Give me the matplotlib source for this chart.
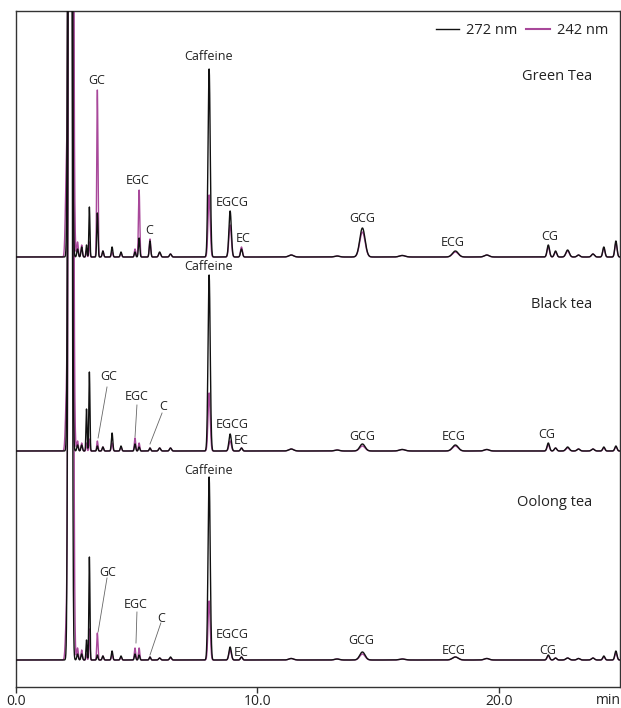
import numpy as np
import matplotlib
matplotlib.use("Agg")
import matplotlib.pyplot as plt
from matplotlib.lines import Line2D

plt.rcParams['font.family'] = ['Open Sans', 'DejaVu Sans']

# ---------------- data: peak tables (retention time [min], width sigma [min]) ----------------
peak_rt = [2.08, 2.24, 2.27, 2.55, 2.72, 2.92, 3.04, 3.37, 3.60, 3.98, 4.35, 4.93, 5.10,
           5.55, 5.95, 6.40, 8.00, 8.87, 9.34, 11.40, 13.30, 14.35, 16.00, 18.20, 19.50,
           22.05, 22.35, 22.85, 23.30, 23.90, 24.35, 24.85]
peak_sigma = [0.04, 0.05, 0.06, 0.03, 0.03, 0.022, 0.022, 0.025, 0.03, 0.03, 0.03, 0.028, 0.028,
              0.03, 0.04, 0.04, 0.045, 0.05, 0.04, 0.10, 0.10, 0.11, 0.12, 0.12, 0.10,
              0.05, 0.05, 0.07, 0.06, 0.06, 0.045, 0.045]

# heights (arbitrary absorbance units) per tea, per wavelength
green_272 = [0, 3000, 0, 8, 10, 12, 50, 44, 6, 10, 5, 5, 19,
             16, 5, 3, 188, 46, 8, 2, 1, 29, 1.5, 6, 2,
             12, 6, 7, 2, 3, 10, 16]
green_242 = [69, 0, 3000, 15, 12, 6, 15, 167, 6, 5, 4, 8, 67,
             18, 4, 3, 62, 32, 10, 2, 1, 25, 1.5, 5, 2,
             10, 5, 6, 2, 3, 9, 14]
black_272 = [0, 3000, 0, 6, 6, 42, 79, 5, 4, 18, 5, 7, 4,
             3, 3, 3, 176, 17, 3, 2, 1, 7, 1.5, 6, 1.5,
             8, 3, 4, 2, 2, 4, 5]
black_242 = [40, 0, 3000, 10, 8, 8, 12, 10, 4, 8, 4, 13, 8,
             3, 3, 3, 58, 10, 3, 2, 1, 5, 1.5, 5, 1.5,
             6, 3, 3, 2, 2, 3, 4]
oolong_272 = [0, 3000, 0, 6, 6, 20, 103, 5, 4, 9, 4, 6, 5,
              3, 2, 3, 183, 13, 3, 1.5, 1, 8, 1, 3, 1.5,
              5, 2, 2, 1.5, 2, 4, 9]
oolong_242 = [30, 0, 3000, 12, 10, 6, 31, 27, 4, 5, 3, 12, 12,
              3, 2, 2, 59, 10, 3, 1.5, 1, 6, 1, 3, 1.5,
              4, 2, 2, 1.5, 2, 3, 7]

tea_names = ["Green Tea", "Black tea", "Oolong tea"]
wavelengths = ["272 nm", "242 nm"]
x_ticks = [0.0, 10.0, 20.0]
x_tick_labels = ["0.0", "10.0", "20.0"]

label_names = ["Caffeine", "GC", "EGC", "C", "EGCG", "EC", "GCG", "ECG", "CG"]

# ---------------- layout ----------------
W, H = 621, 708
fig = plt.figure(figsize=(W / 100, H / 100), dpi=100)
ax = fig.add_axes([16 / W, 1 - 687 / H, (620 - 16) / W, (687 - 11) / H])
x_max = 25.02
ax.set_xlim(0, x_max)
ax.set_ylim(0, 676)

baselines = [430, 236, 27]
c272 = "#111111"
c242 = "#a8489a"

t = np.linspace(0, x_max, 6000)


def trace(heights):
    y = np.zeros_like(t)
    for rt, s, h in zip(peak_rt, peak_sigma, heights):
        y += h * np.exp(-0.5 * ((t - rt) / s) ** 2)
    return y


series = [(green_272, green_242), (black_272, black_242), (oolong_272, oolong_242)]
for (s272, s242), base in zip(series, baselines):
    ax.plot(t, base + trace(s242), color=c242, lw=1.0, zorder=2)
    ax.plot(t, base + trace(s272), color=c272, lw=1.0, zorder=3)

# peak labels: (time, height above baseline)
label_pos = [
    [(7.99, 200), (3.35, 177), (5.05, 77), (5.5, 27), (8.95, 55), (9.4, 19), (14.33, 38), (18.1, 14), (22.1, 21)],
    [(7.99, 185), (3.85, 74), (5.01, 55), (6.09, 44), (8.94, 27), (9.32, 10), (14.33, 14), (18.14, 14), (22.0, 16)],
    [(7.99, 189), (3.81, 88), (4.97, 55), (6.0, 42), (8.94, 25), (9.32, 8), (14.29, 19), (18.12, 10), (22.03, 10)],
]
for base, poses in zip(baselines, label_pos):
    for name, (lx, ly) in zip(label_names, poses):
        ax.text(lx, base + ly, name, ha='center', va='center', fontsize=9, color='#222222', zorder=5)

# leader lines for black & oolong (GC, EGC, C)
leaders = [
    [((3.77, 64), (3.40, 13)), ((5.01, 46), (4.93, 14)), ((6.05, 38), (5.55, 7))],
    [((3.77, 82), (3.40, 28)), ((5.01, 48), (4.97, 17)), ((6.0, 37), (5.55, 5))],
]
for base, segs in zip(baselines[1:], leaders):
    for (x0, y0), (x1, y1) in segs:
        ax.plot([x0, x1], [base + y0, base + y1], color='#666666', lw=0.6, zorder=4)

# tea names
tea_pos = [180, 146, 158]
for name, base, dy in zip(tea_names, baselines, tea_pos):
    ax.text(23.86, base + dy, name, ha='right', va='center', fontsize=10.5, color='#222222')

# legend
handles = [Line2D([], [], color=c272, lw=1.0), Line2D([], [], color=c242, lw=1.5)]
ax.legend(handles, wavelengths, loc='upper right', bbox_to_anchor=(1.0, 1.0), ncol=2,
          frameon=False, fontsize=10.5, handlelength=1.6, handletextpad=0.5,
          columnspacing=0.6, borderaxespad=0.4, labelcolor='#222222')

# axes styling
ax.set_yticks([])
ax.set_xticks(x_ticks)
ax.set_xticklabels(x_tick_labels, fontsize=10, color='#222222')
ax.tick_params(axis='x', direction='out', length=4, width=1, color='#333333', pad=1)
for sp in ax.spines.values():
    sp.set_color('#333333')
    sp.set_linewidth(1.0)
ax.text(x_max + 0.05, -14, "min", ha='right', va='center', fontsize=10, color='#222222',
        clip_on=False)

fig.savefig("out.png", dpi=100)
